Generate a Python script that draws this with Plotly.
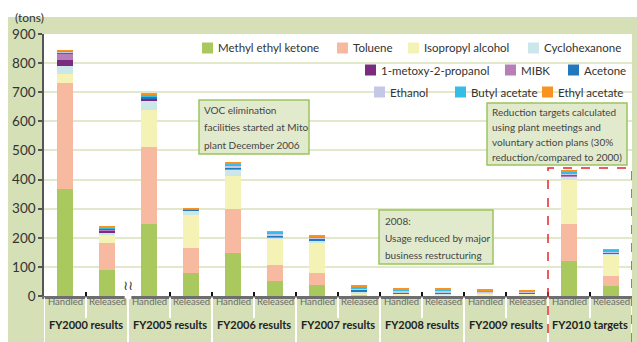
import plotly.graph_objects as go

# ---- data (tons) ----
groups = ["FY2000 results", "FY2005 results", "FY2006 results", "FY2007 results",
          "FY2008 results", "FY2009 results", "FY2010 targets"]
kinds = ["Handled", "Released"]

substances = ["Methyl ethyl ketone", "Toluene", "Isopropyl alcohol", "Cyclohexanone",
              "1-metoxy-2-propanol", "MIBK", "Acetone", "Ethanol",
              "Butyl acetate", "Ethyl acetate"]

methyl_ethyl_ketone = [368, 88, 247, 78, 147, 51, 37, 1, 1, 1, 1, 1, 120, 34]
toluene             = [363, 94, 266, 87, 152, 55, 41, 5, 0, 1, 0, 0, 127, 34]
isopropyl_alcohol   = [31, 28, 127, 114, 114, 90, 104, 4, 6, 2, 7, 6, 152, 72]
cyclohexanone       = [27, 7, 33, 13, 21, 4, 7, 5, 3, 2, 3, 3, 12, 7]
metoxy_propanol     = [21, 8, 5, 1, 2, 2, 1, 0, 0, 0, 0, 0, 1, 0]
mibk                = [20, 3, 2, 0, 2, 1, 1, 0, 0, 0, 0, 0, 1, 0]
acetone             = [7, 3, 5, 3, 4, 6, 6, 7, 3, 7, 2, 2, 5, 3]
ethanol             = [2, 2, 2, 1, 4, 4, 3, 3, 3, 3, 2, 2, 3, 2]
butyl_acetate       = [3, 4, 5, 3, 10, 7, 6, 7, 7, 7, 3, 3, 6, 6]
ethyl_acetate       = [3, 2, 3, 2, 4, 3, 3, 4, 3, 3, 3, 3, 3, 3]

series = [methyl_ethyl_ketone, toluene, isopropyl_alcohol, cyclohexanone,
          metoxy_propanol, mibk, acetone, ethanol, butyl_acetate, ethyl_acetate]

colors = ["#a9c95f", "#f7b9a0", "#f4f2b4", "#cbe7ea", "#7a2a7f",
          "#b77fb7", "#2378bd", "#c4c7e5", "#35bde8", "#f7931e"]

y_ticks = [0, 100, 200, 300, 400, 500, 600, 700, 800, 900]

# ---- geometry helpers (pixel -> paper) ----
W, H = 637, 342
L, R, T, B = 44, 632, 34, 296


def fx(p):
    return (p - L) / (R - L)


def fy(p):
    return (B - p) / (B - T)


FONT = "Lato"
GREEN_BG = "#d5e0b7"
BOX_FILL = "#e2eacd"
BOX_LINE = "#9cc45e"

slots = list(range(len(groups) * len(kinds)))

fig = go.Figure()
for name, vals, col in zip(substances, series, colors):
    fig.add_trace(go.Bar(x=slots, y=vals, name=name, marker_color=col,
                         marker_line_width=0, width=0.4, showlegend=False))

shapes = []
annotations = []

# white strips framing the green panel
shapes.append(dict(type="rect", xref="paper", yref="paper", layer="below",
                   x0=fx(0), x1=fx(W), y0=fy(17), y1=fy(-5),
                   fillcolor="white", line_width=0))
shapes.append(dict(type="rect", xref="paper", yref="paper", layer="below",
                   x0=fx(-5), x1=fx(8), y0=fy(H + 5), y1=fy(-5),
                   fillcolor="white", line_width=0))

# category band separators
for i in range(len(slots) + 1):
    xb = i - 0.5
    if i % 2 == 0:
        y_end = fy(H + 2)
    else:
        y_end = fy(318)
    shapes.append(dict(type="line", xref="x", yref="paper", x0=xb, x1=xb,
                       y0=fy(297.5), y1=y_end, line=dict(color="white", width=2)))

# category labels
for i, s in enumerate(slots):
    annotations.append(dict(x=s, y=fy(309), xref="x", yref="paper",
                            text=kinds[i % 2], showarrow=False,
                            font=dict(family=FONT, size=9.5, color="#6b6b6b")))
for g, name in enumerate(groups):
    annotations.append(dict(x=2 * g + 0.5, y=fy(333), xref="x", yref="paper",
                            text="<b>" + name + "</b>", showarrow=False,
                            font=dict(family=FONT, size=11, color="#222222")))

# axis unit
annotations.append(dict(x=fx(13), y=fy(17.5), xref="paper", yref="paper",
                        xanchor="left", yanchor="middle", text="(tons)",
                        showarrow=False, font=dict(family=FONT, size=12, color="#333333")))

# axis break mark between FY2000 and FY2005
shapes.append(dict(type="rect", xref="x", yref="paper", x0=1.42, x1=1.58,
                   y0=fy(299), y1=fy(292), fillcolor="white", line_width=0))
annotations.append(dict(x=1.5, y=fy(295), xref="x", yref="paper",
                        text="≀≀", showarrow=False,
                        font=dict(family="DejaVu Sans", size=13, color="#333333")))

# legend, drawn as swatches + labels in right-aligned rows
legend_rows = [
    (48, [(0, 202), (1, 337), (2, 408), (3, 528)]),
    (70, [(4, 365), (5, 505), (6, 568)]),
    (92, [(7, 374), (8, 455), (9, 542)]),
]
for row_y, items in legend_rows:
    for idx, sx in items:
        shapes.append(dict(type="rect", xref="paper", yref="paper",
                           x0=fx(sx), x1=fx(sx + 11), y0=fy(row_y + 5.5), y1=fy(row_y - 5.5),
                           fillcolor=colors[idx], line_width=0))
        annotations.append(dict(x=fx(sx + 14), y=fy(row_y), xref="paper", yref="paper",
                                xanchor="left", yanchor="middle", text=substances[idx],
                                showarrow=False,
                                font=dict(family=FONT, size=11.5, color="#333333")))

# note boxes
notes = [
    ((199, 100, 309, 154), 202, [110, 127.5, 145],
     ["VOC elimination", "facilities started at Mito", "plant December 2006"]),
    ((379, 210, 493, 264), 383, [221, 238, 255],
     ["2008:", "Usage reduced by major", "business restructuring"]),
    ((487, 103, 627, 165), 490, [112, 127, 142, 157],
     ["Reduction targets calculated", "using plant meetings and",
      "voluntary action plans (30%", "reduction/compared to 2000)"]),
]
for (x0, y0, x1, y1), tx, ys, lines in notes:
    shapes.append(dict(type="rect", xref="paper", yref="paper",
                       x0=fx(x0), x1=fx(x1), y0=fy(y1), y1=fy(y0),
                       fillcolor=BOX_FILL, line=dict(color=BOX_LINE, width=1.5)))
    for ly, txt in zip(ys, lines):
        annotations.append(dict(x=fx(tx), y=fy(ly), xref="paper", yref="paper",
                                xanchor="left", yanchor="middle", text=txt,
                                showarrow=False,
                                font=dict(family=FONT, size=10, color="#444444")))

# FY2010 targets frame
shapes.append(dict(type="rect", xref="x", yref="paper", x0=11.5, x1=13.5,
                   y0=fy(H + 6), y1=fy(168),
                   line=dict(color="#e8262a", width=1.5, dash="dash")))

fig.update_layout(
    width=W, height=H,
    margin=dict(l=L, r=W - R, t=T, b=H - B, pad=0),
    paper_bgcolor=GREEN_BG, plot_bgcolor="white",
    barmode="stack", bargap=0,
    shapes=shapes, annotations=annotations,
    showlegend=False,
    xaxis=dict(range=[-0.5, 13.5], tickvals=[i - 0.5 for i in range(15)],
               showticklabels=False, ticks="inside", ticklen=4, tickwidth=1.5,
               tickcolor="#111111", showgrid=False, zeroline=False,
               showline=True, linecolor="#6e6e6e", linewidth=3, fixedrange=True),
    yaxis=dict(range=[0, 900], tickvals=y_ticks, ticks="outside", ticklen=4,
               tickwidth=1.5, tickcolor="#555555", showline=True,
               linecolor="#555555", linewidth=1.5, gridcolor="#e2e9cb", gridwidth=2,
               zeroline=False, tickfont=dict(family=FONT, size=13.5, color="#333333"),
               fixedrange=True),
)

fig.write_html("out.html")
